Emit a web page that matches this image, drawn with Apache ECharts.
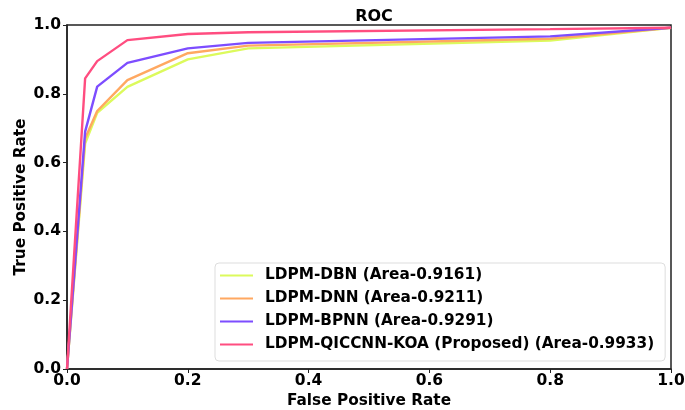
<!DOCTYPE html>
<html>
<head>
<meta charset="utf-8">
<script src="https://cdn.jsdelivr.net/npm/echarts@6/dist/echarts.min.js"></script>
<style>
html,body{margin:0;padding:0;background:#fff;}
#chart{width:685px;height:410px;}
</style>
</head>
<body>
<div id="chart"></div>
<script>
const fpr = [0, 0.03, 0.05, 0.1, 0.2, 0.3, 0.8, 1.0];
const tprDBN = [0, 0.655, 0.745, 0.82, 0.90, 0.932, 0.955, 0.992];
const tprDNN = [0, 0.67, 0.75, 0.84, 0.918, 0.94, 0.96, 0.992];
const tprBPNN = [0, 0.69, 0.821, 0.89, 0.932, 0.948, 0.967, 0.992];
const tprQICCNN = [0, 0.845, 0.895, 0.956, 0.974, 0.979, 0.988, 0.992];
const seriesNames = [
  'LDPM-DBN (Area-0.9161)',
  'LDPM-DNN (Area-0.9211)',
  'LDPM-BPNN (Area-0.9291)',
  'LDPM-QICCNN-KOA (Proposed) (Area-0.9933)'
];
const seriesColors = ['#dcfa5c', '#ffa861', '#7d4dff', '#ff4d80'];
const allTpr = [tprDBN, tprDNN, tprBPNN, tprQICCNN];

const font = 'DejaVu Sans';
const chart = echarts.init(document.getElementById('chart'));
const series = allTpr.map((arr, i) => ({
  name: seriesNames[i],
  type: 'line',
  data: fpr.map((x, j) => [x, arr[j]]),
  showSymbol: false,
  symbol: 'none',
  lineStyle: {width: 2.4, color: seriesColors[i]},
  itemStyle: {color: seriesColors[i]},
  z: 2 + i
}));

chart.setOption({
  animation: false,
  title: {
    text: 'ROC', left: 369, top: 4, textAlign: 'center',
    textStyle: {fontFamily: font, fontWeight: 'bold', fontSize: 16, color: '#000'}
  },
  grid: {left: 67, right: 14, top: 25, bottom: 41, show: true, borderColor: '#222', borderWidth: 1.5,
    containLabel: false, outerBoundsMode: 'none'},
  xAxis: {
    type: 'value', min: 0, max: 1, interval: 0.2,
    name: 'False Positive Rate', nameLocation: 'middle', nameGap: 25,
    nameTextStyle: {fontFamily: font, fontWeight: 'bold', fontSize: 15.3, color: '#000'},
    axisLine: {show: true, onZero: false, lineStyle: {color: '#222', width: 1.5}},
    axisTick: {show: true, length: 4, lineStyle: {color: '#222'}},
    axisLabel: {fontFamily: font, fontWeight: 'bold', fontSize: 15.5, color: '#000', margin: 4,
      formatter: v => v.toFixed(1)},
    splitLine: {show: false}
  },
  yAxis: {
    type: 'value', min: 0, max: 1, interval: 0.2,
    name: 'True Positive Rate', nameLocation: 'middle', nameGap: 38, nameMoveOverlap: false,
    nameTextStyle: {fontFamily: font, fontWeight: 'bold', fontSize: 15.3, color: '#000'},
    axisLine: {show: true, onZero: false, lineStyle: {color: '#222', width: 1.5}},
    axisTick: {show: true, length: 4, lineStyle: {color: '#222'}},
    axisLabel: {fontFamily: font, fontWeight: 'bold', fontSize: 15.5, color: '#000', margin: 6,
      formatter: v => v.toFixed(1)},
    splitLine: {show: false}
  },
  legend: {
    orient: 'vertical', left: 215, top: 263,
    padding: [5, 11, 9, 5],
    borderColor: '#ddd', borderWidth: 1, borderRadius: 4, backgroundColor: 'rgba(255,255,255,0.8)',
    itemWidth: 33, itemHeight: 14, itemGap: 8,
    icon: 'path://M0,6.5 L33,6.5 L33,8.5 L0,8.5 Z',
    textStyle: {fontFamily: font, fontWeight: 'bold', fontSize: 15.3, color: '#000', lineHeight: 15, padding: [0, 0, 0, 7]},
    data: seriesNames
  },
  series: series
});
</script>
</body>
</html>
